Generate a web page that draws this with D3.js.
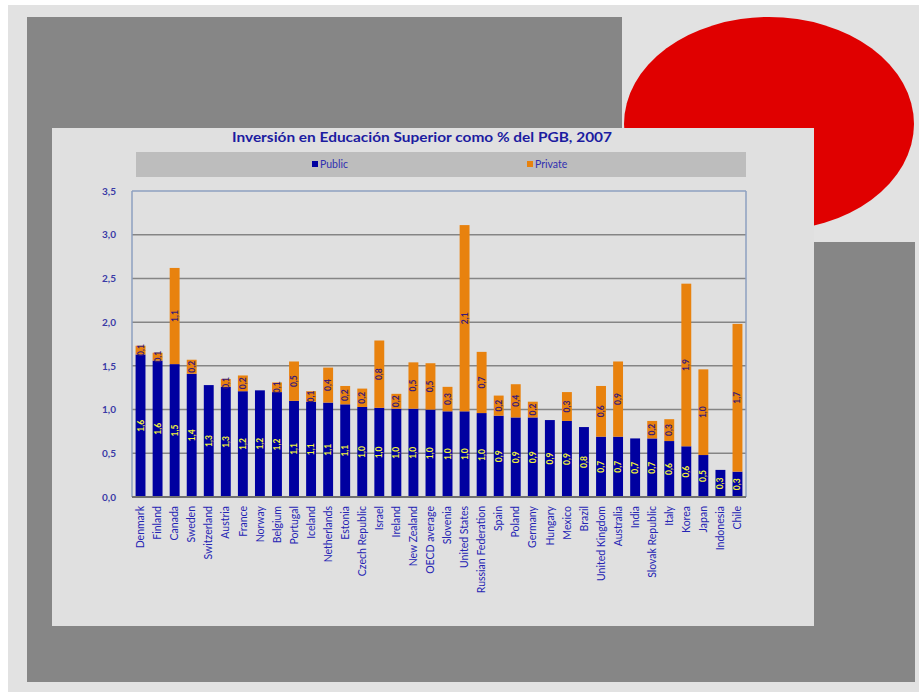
<!DOCTYPE html>
<html>
<head>
<meta charset="utf-8">
<script src="https://cdn.jsdelivr.net/npm/d3@7"></script>
<style>
  html, body { margin: 0; padding: 0; background: #ffffff; }
  svg { display: block; }
  text { font-family: Lato, "Open Sans", sans-serif; }
</style>
</head>
<body>
<svg id="chart" width="919" height="692"></svg>
<script>
const categories = ["Denmark","Finland","Canada","Sweden","Switzerland","Austria","France","Norway","Belgium","Portugal","Iceland","Netherlands","Estonia","Czech Republic","Israel","Ireland","New Zealand","OECD average","Slovenia","United States","Russian Federation","Spain","Poland","Germany","Hungary","Mexico","Brazil","United Kingdom","Australia","India","Slovak Republic","Italy","Korea","Japan","Indonesia","Chile"];
const publicVals = [1.63,1.56,1.52,1.41,1.28,1.26,1.21,1.22,1.20,1.10,1.09,1.08,1.06,1.03,1.02,1.01,1.01,1.00,0.98,0.98,0.96,0.93,0.91,0.91,0.88,0.87,0.80,0.69,0.69,0.67,0.67,0.64,0.58,0.48,0.31,0.29];
const privateVals = [0.10,0.09,1.10,0.16,0,0.09,0.18,0,0.11,0.45,0.12,0.40,0.21,0.21,0.77,0.17,0.53,0.53,0.28,2.13,0.70,0.23,0.38,0.18,0,0.33,0,0.58,0.86,0,0.20,0.25,1.86,0.98,0,1.69];
const yTicks = [0,0.5,1.0,1.5,2.0,2.5,3.0,3.5];
const seriesNames = ["Public","Private"];
const seriesColors = ["#0000a0","#e8820e"];
const titleText = "Inversión en Educación  Superior como % del PGB, 2007";

const svg = d3.select("#chart");
const fmt = v => v.toFixed(1).replace(".", ",");

// Background slide decoration
svg.append("rect").attr("x",0).attr("y",0).attr("width",919).attr("height",692).attr("fill","#ffffff");
svg.append("rect").attr("x",8).attr("y",5).attr("width",911).attr("height",687).attr("fill","#e2e2e2");
svg.append("path")
  .attr("d","M27,17 L622,17 L622,242 L915,242 L915,682 L27,682 Z")
  .attr("fill","#868686");
svg.append("ellipse").attr("cx",769).attr("cy",124).attr("rx",145).attr("ry",107).attr("fill","#e00000");

// Chart panel
svg.append("rect").attr("x",52).attr("y",128).attr("width",762).attr("height",498).attr("fill","#e0e0e0");

// Title
svg.append("text").attr("x",422).attr("y",142).attr("text-anchor","middle")
  .attr("font-size",13.5).attr("font-weight","bold").attr("fill","#1c1ca0")
  .attr("textLength",380).attr("lengthAdjust","spacingAndGlyphs")
  .text(titleText);

// Legend
svg.append("rect").attr("x",136).attr("y",152).attr("width",610).attr("height",25).attr("fill","#bdbdbd");
const legendX = [312, 527];
seriesNames.forEach((n,i) => {
  svg.append("rect").attr("x",legendX[i]).attr("y",161).attr("width",6).attr("height",6).attr("fill",seriesColors[i]);
  svg.append("text").attr("x",legendX[i]+8).attr("y",168).attr("font-size",10.5).attr("fill","#3030b0").text(n);
});

// Plot
const x0 = 132, x1 = 746, yTop = 191, yBot = 497;
const x = d3.scaleBand().domain(categories).range([x0, x1]).paddingInner(0.42).paddingOuter(0.21);
const y = d3.scaleLinear().domain([0, 3.5]).range([yBot, yTop]);

const g = svg.append("g");
// gridlines
g.selectAll("line.grid").data(yTicks.filter(t => t > 0 && t < 3.5)).enter().append("line")
  .attr("x1",x0).attr("x2",x1).attr("y1",d=>y(d)).attr("y2",d=>y(d))
  .attr("stroke","#858585").attr("stroke-width",1.5);
// plot border (top/right/left)
g.append("line").attr("x1",x0).attr("x2",x1).attr("y1",yTop).attr("y2",yTop).attr("stroke","#8ea0c0").attr("stroke-width",1.5);
g.append("line").attr("x1",x1).attr("x2",x1).attr("y1",yTop).attr("y2",yBot).attr("stroke","#8ea0c0").attr("stroke-width",1.5);
g.append("line").attr("x1",x0).attr("x2",x0).attr("y1",yTop).attr("y2",yBot).attr("stroke","#8ea0c0").attr("stroke-width",1.5);

// Y axis labels
const yAxis = d3.axisLeft(y).tickValues(yTicks).tickSize(0).tickPadding(0).tickFormat(fmt);
const ya = svg.append("g").attr("transform",`translate(116,0)`).call(yAxis);
ya.select(".domain").remove();
ya.selectAll("text").attr("font-size",10).attr("font-weight","bold").attr("fill","#3a3aa6").attr("font-family","Lato, sans-serif");

// Bars
const data = categories.map((c,i) => ({c, pub: publicVals[i], priv: privateVals[i]}));
g.selectAll("rect.pub").data(data).enter().append("rect")
  .attr("x",d=>x(d.c)).attr("width",x.bandwidth())
  .attr("y",d=>y(d.pub)).attr("height",d=>y(0)-y(d.pub))
  .attr("fill",seriesColors[0]);
g.selectAll("rect.priv").data(data.filter(d=>d.priv>0)).enter().append("rect")
  .attr("x",d=>x(d.c)).attr("width",x.bandwidth())
  .attr("y",d=>y(d.pub+d.priv)).attr("height",d=>y(d.pub)-y(d.pub+d.priv))
  .attr("fill",seriesColors[1]);

// X axis line
g.append("line").attr("x1",x0).attr("x2",x1).attr("y1",yBot).attr("y2",yBot).attr("stroke","#707070").attr("stroke-width",2);

// Data labels
g.selectAll("text.pl").data(data).enter().append("text")
  .attr("transform",d=>`translate(${x(d.c)+x.bandwidth()/2},${(y(0)+y(d.pub))/2}) rotate(-90)`)
  .attr("text-anchor","middle").attr("dy","0.35em")
  .attr("font-size",8.5).attr("font-weight","bold").attr("fill","#f2f23a")
  .text(d=>fmt(d.pub));
g.selectAll("text.vl").data(data.filter(d=>d.priv>0)).enter().append("text")
  .attr("transform",d=>`translate(${x(d.c)+x.bandwidth()/2},${(y(d.pub)+y(d.pub+d.priv))/2}) rotate(-90)`)
  .attr("text-anchor","middle").attr("dy","0.35em")
  .attr("font-size",8.5).attr("font-weight","bold").attr("fill","#3a1a78")
  .text(d=>fmt(d.priv));

// X axis labels
const xAxis = d3.axisBottom(x).tickSize(0).tickPadding(0);
const xa = svg.append("g").attr("transform",`translate(0,${yBot})`).call(xAxis);
xa.select(".domain").remove();
xa.selectAll("text")
  .attr("transform","translate(0,9) rotate(-90)")
  .attr("text-anchor","end").attr("dy","0.35em").attr("y",0).attr("x",0)
  .attr("font-size",10.5).attr("fill","#2424b4").attr("font-family","Lato, sans-serif");
</script>
</body>
</html>
